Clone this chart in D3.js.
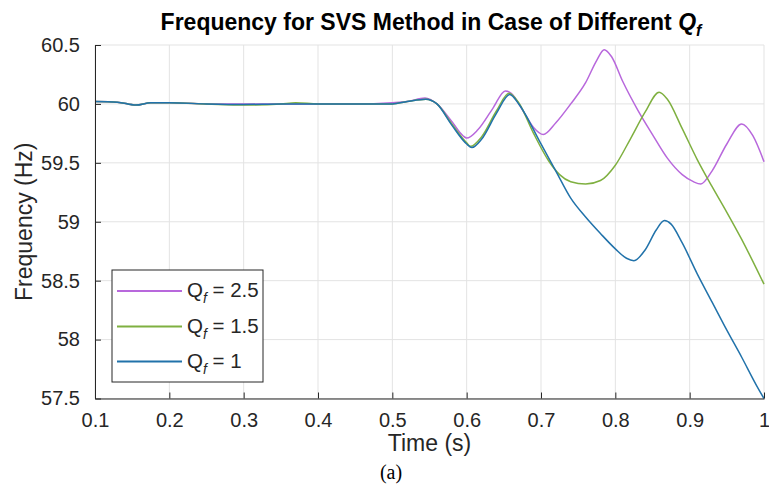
<!DOCTYPE html>
<html><head><meta charset="utf-8">
<script src="https://cdn.jsdelivr.net/npm/d3@7/dist/d3.min.js"></script>
<style>
body{margin:0;background:#fff}
svg{display:block}
text{font-family:"Liberation Sans",Arial,Helvetica,sans-serif;fill:#262626}
</style>
</head><body>
<svg id="chart" width="769" height="490"></svg>
<script>
// ---- data ----
const seriesNames = ["2.5", "1.5", "1"];           // Q_f values
const seriesColors = ["#b868dc", "#7fb040", "#2172aa"];

const timeQ25 = [0.10,0.13,0.155,0.175,0.20,0.25,0.30,0.35,0.40,0.45,0.50,0.52,0.544,0.56,0.58,0.595,0.60,0.615,0.635,0.652,0.66,0.675,0.69,0.703,0.72,0.74,0.76,0.775,0.785,0.795,0.81,0.83,0.85,0.87,0.89,0.905,0.915,0.93,0.95,0.97,0.985,1.0];
const freqQ25 = [60.02,60.015,59.99,60.01,60.01,60.0,60.0,60.0,60.0,60.0,60.01,60.02,60.05,60.0,59.85,59.73,59.71,59.78,59.96,60.11,60.09,59.95,59.80,59.74,59.84,60.0,60.18,60.37,60.46,60.40,60.19,59.95,59.74,59.54,59.40,59.34,59.32,59.43,59.66,59.83,59.73,59.51];

const timeQ15 = [0.10,0.13,0.155,0.175,0.20,0.25,0.30,0.35,0.37,0.40,0.45,0.50,0.52,0.545,0.56,0.58,0.60,0.605,0.62,0.64,0.657,0.67,0.69,0.71,0.725,0.74,0.76,0.78,0.80,0.82,0.84,0.859,0.87,0.89,0.91,0.93,0.95,0.97,0.99,1.0];
const freqQ15 = [60.02,60.015,59.99,60.01,60.01,60.0,59.99,60.0,60.01,60.0,60.0,60.0,60.02,60.04,60.0,59.83,59.67,59.64,59.72,59.94,60.09,60.01,59.75,59.52,59.40,59.34,59.32,59.35,59.48,59.70,59.93,60.10,60.04,59.79,59.53,59.30,59.08,58.85,58.60,58.47];

const timeQ1 = [0.10,0.13,0.155,0.175,0.20,0.25,0.30,0.35,0.40,0.45,0.50,0.52,0.545,0.56,0.58,0.60,0.607,0.62,0.64,0.658,0.67,0.70,0.72,0.74,0.76,0.78,0.80,0.815,0.825,0.84,0.855,0.866,0.875,0.89,0.91,0.93,0.95,0.97,0.99,1.0];
const freqQ1 = [60.02,60.015,59.99,60.01,60.01,60.0,59.995,60.0,60.0,60.0,60.0,60.02,60.04,60.0,59.82,59.66,59.63,59.70,59.92,60.08,60.0,59.66,59.43,59.20,59.04,58.90,58.77,58.69,58.67,58.76,58.93,59.01,58.98,58.82,58.56,58.32,58.08,57.85,57.61,57.50];

const xTickValues = [0.1,0.2,0.3,0.4,0.5,0.6,0.7,0.8,0.9,1.0];
const xTickLabels = ["0.1","0.2","0.3","0.4","0.5","0.6","0.7","0.8","0.9","1"];
const yTickValues = [57.5,58,58.5,59,59.5,60,60.5];
const yTickLabels = ["57.5","58","58.5","59","59.5","60","60.5"];

const titleText = "Frequency for SVS Method in Case of Different ";
const xLabel = "Time (s)";
const yLabel = "Frequency (Hz)";
const caption = "(a)";

// ---- layout ----
const W = 769, H = 490;
const L = 95, R = 764, T = 45, B = 398.5;
const svg = d3.select("#chart");

const x = d3.scaleLinear().domain([0.1, 1.0]).range([L, R]);
const y = d3.scaleLinear().domain([57.5, 60.5]).range([B, T]);

// grid
const grid = svg.append("g");
grid.selectAll("line.gx").data(xTickValues).join("line")
  .attr("x1", d => x(d)).attr("x2", d => x(d)).attr("y1", T).attr("y2", B)
  .attr("stroke", "#e3e3e3").attr("stroke-width", 1);
grid.selectAll("line.gy").data(yTickValues).join("line")
  .attr("x1", L).attr("x2", R).attr("y1", d => y(d)).attr("y2", d => y(d))
  .attr("stroke", "#e3e3e3").attr("stroke-width", 1);

// curves
const series = [
  {t: timeQ25, f: freqQ25},
  {t: timeQ15, f: freqQ15},
  {t: timeQ1, f: freqQ1}
];
const line = d3.line().x(d => x(d[0])).y(d => y(d[1])).curve(d3.curveMonotoneX);
series.forEach((s, i) => {
  svg.append("path")
    .datum(s.t.map((t, k) => [t, s.f[k]]))
    .attr("d", line)
    .attr("fill", "none")
    .attr("stroke", seriesColors[i])
    .attr("stroke-width", 1.5)
    .attr("stroke-linejoin", "round");
});

// axes
const xAxis = d3.axisBottom(x).tickValues(xTickValues)
  .tickFormat((d, i) => xTickLabels[i]).tickSizeInner(-6).tickSizeOuter(0).tickPadding(14);
const gx = svg.append("g").attr("transform", `translate(0,${B})`).call(xAxis);
gx.select(".domain").attr("stroke", "#262626").attr("stroke-width", 1);
gx.selectAll(".tick line").attr("stroke", "#262626");
gx.selectAll(".tick text").attr("font-size", 20).attr("fill", "#262626")
  .attr("font-family", "Liberation Sans, Arial, sans-serif");

const yAxis = d3.axisLeft(y).tickValues(yTickValues)
  .tickFormat((d, i) => yTickLabels[i]).tickSizeInner(-6).tickSizeOuter(0).tickPadding(15);
const gy = svg.append("g").attr("transform", `translate(${L},0)`).call(yAxis);
gy.select(".domain").attr("stroke", "#262626").attr("stroke-width", 1);
gy.selectAll(".tick line").attr("stroke", "#262626");
gy.selectAll(".tick text").attr("font-size", 20).attr("fill", "#262626")
  .attr("font-family", "Liberation Sans, Arial, sans-serif");

// title
const title = svg.append("text").attr("x", 431).attr("y", 30)
  .attr("text-anchor", "middle").attr("font-size", 23).attr("font-weight", "bold").style("fill", "#000");
title.append("tspan").text(titleText);
title.append("tspan").attr("font-style", "italic").text("Q");
title.append("tspan").attr("font-style", "italic").attr("font-size", 16).attr("dy", 6).text("f");

// axis labels
svg.append("text").attr("x", (L + R) / 2).attr("y", 451)
  .attr("text-anchor", "middle").attr("font-size", 23).text(xLabel);
svg.append("text").attr("transform", `translate(32,${(T + B) / 2}) rotate(-90)`)
  .attr("text-anchor", "middle").attr("font-size", 23).text(yLabel);

// caption
svg.append("text").attr("x", 391).attr("y", 479).attr("text-anchor", "middle")
  .attr("font-size", 20).style("font-family", "Liberation Serif, Times New Roman, serif").style("fill", "#000")
  .text(caption);

// legend
const lg = svg.append("g");
lg.append("rect").attr("x", 112).attr("y", 270).attr("width", 151).attr("height", 112)
  .attr("fill", "#fff").attr("stroke", "#262626").attr("stroke-width", 1);
const rowY = [291, 326.5, 361.5];
seriesNames.forEach((n, i) => {
  lg.append("line").attr("x1", 117).attr("x2", 182).attr("y1", rowY[i]).attr("y2", rowY[i])
    .attr("stroke", seriesColors[i]).attr("stroke-width", 2);
  const t = lg.append("text").attr("x", 187).attr("y", rowY[i] + 6).attr("font-size", 20.5);
  t.append("tspan").text("Q");
  t.append("tspan").attr("font-size", 14).attr("font-style", "italic").attr("dy", 6).text("f");
  t.append("tspan").attr("dy", -6).text(" = " + n);
});
</script>
</body></html>
